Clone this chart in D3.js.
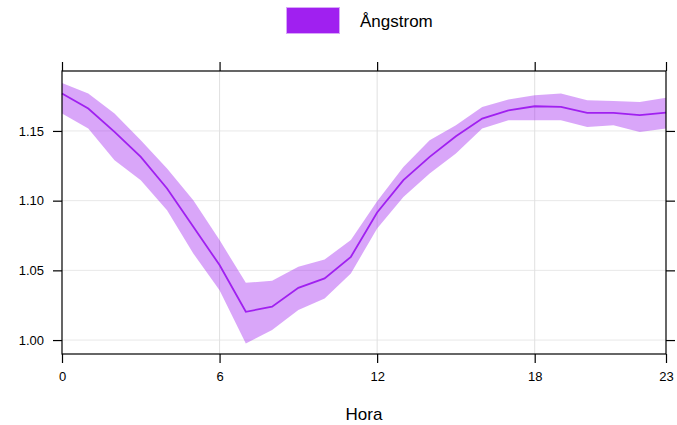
<!DOCTYPE html>
<meta charset="utf-8">
<script src="https://d3js.org/d3.v7.min.js"></script>
<style>
  body { margin: 0; background: #fff; }
  text { font-family: "Liberation Sans", Arial, sans-serif; fill: #000; }
</style>
<div id="chart"></div>
<script>
  // hourly mean and band
  var hours = d3.range(0, 24);
  var meanVals = [1.1768, 1.1661, 1.1493, 1.1314, 1.1087, 1.0812, 1.0538, 1.0203,
    1.0239, 1.0375, 1.0442, 1.0597, 1.0915, 1.1147, 1.1314, 1.1462,
    1.1589, 1.1648, 1.1677, 1.1672, 1.1629, 1.1629, 1.1613, 1.1632];
  var upperVals = [1.1844, 1.1768, 1.1625, 1.1433, 1.1230, 1.1003, 1.0717, 1.0411,
    1.0425, 1.0525, 1.0578, 1.0717, 1.0995, 1.1242, 1.1433, 1.1541,
    1.1672, 1.1725, 1.1756, 1.1768, 1.1720, 1.1715, 1.1708, 1.1739];
  var lowerVals = [1.1625, 1.1517, 1.1290, 1.1147, 1.0932, 1.0621, 1.0358, 0.9976,
    1.0072, 1.0215, 1.0299, 1.0478, 1.0800, 1.1027, 1.1195, 1.1338,
    1.1517, 1.1577, 1.1577, 1.1577, 1.1529, 1.1541, 1.1493, 1.1517];
  var xTicks = [0, 6, 12, 18, 23];
  var xGrid = [6, 12, 18];
  var yTicks = [1.00, 1.05, 1.10, 1.15];
  var seriesName = "Ångstrom";

  var width = 677, height = 425;
  var pLeft = 62, pRight = 666, pTop = 71, pBottom = 354;
  var tick = 9;

  var svg = d3.select("#chart").append("svg")
    .attr("width", width)
    .attr("height", height);

  var x = d3.scaleLinear().domain([0, 23]).range([pLeft, pRight]);
  var y = d3.scaleLinear().domain([0.99, 1.193]).range([pBottom, pTop]);

  var data = hours.map(function (h, i) {
    return { h: h, m: meanVals[i], lo: lowerVals[i], hi: upperVals[i] };
  });

  // grid
  svg.selectAll(".gy").data(yTicks).enter().append("line")
    .attr("x1", pLeft).attr("x2", pRight)
    .attr("y1", function (d) { return y(d); })
    .attr("y2", function (d) { return y(d); })
    .style("stroke", "#e8e8e8");
  svg.selectAll(".gx").data(xGrid).enter().append("line")
    .attr("y1", pTop).attr("y2", pBottom)
    .attr("x1", function (d) { return x(d); })
    .attr("x2", function (d) { return x(d); })
    .style("stroke", "#e0e0e0");

  // band
  var area = d3.area()
    .x(function (d) { return x(d.h); })
    .y0(function (d) { return y(d.lo); })
    .y1(function (d) { return y(d.hi); });
  svg.append("path").datum(data)
    .attr("d", area)
    .style("fill", "#a020f0")
    .style("fill-opacity", 0.4);

  // line
  var line = d3.line()
    .x(function (d) { return x(d.h); })
    .y(function (d) { return y(d.m); });
  svg.append("path").datum(data)
    .attr("d", line)
    .style("fill", "none")
    .style("stroke", "#a020f0")
    .style("stroke-width", 1.8);

  // box
  svg.append("rect")
    .attr("x", pLeft).attr("y", pTop)
    .attr("width", pRight - pLeft).attr("height", pBottom - pTop)
    .style("fill", "none").style("stroke", "#000").style("stroke-width", 1.2);

  // axes: ticks outside on all four sides
  var axB = d3.axisBottom(x).tickValues(xTicks).tickSize(tick).tickPadding(9);
  var gB = svg.append("g").attr("transform", "translate(0," + pBottom + ")").call(axB);
  var axT = d3.axisTop(x).tickValues(xTicks).tickSize(tick).tickFormat("");
  var gT = svg.append("g").attr("transform", "translate(0," + pTop + ")").call(axT);
  var axL = d3.axisLeft(y).tickValues(yTicks).tickSize(tick).tickPadding(9)
    .tickFormat(d3.format(".2f"));
  var gL = svg.append("g").attr("transform", "translate(" + pLeft + ",0)").call(axL);
  var axR = d3.axisRight(y).tickValues(yTicks).tickSize(tick).tickFormat("");
  var gR = svg.append("g").attr("transform", "translate(" + pRight + ",0)").call(axR);

  [gB, gT, gL, gR].forEach(function (g) {
    g.select(".domain").remove();
    g.selectAll("line").style("stroke", "#000").style("stroke-width", 1.2);
    g.selectAll("text").style("font-size", "13px").style("fill", "#000")
      .style("font-family", "Liberation Sans, Arial, sans-serif");
  });

  // x label
  svg.append("text")
    .attr("x", (pLeft + pRight) / 2).attr("y", 420)
    .attr("text-anchor", "middle")
    .style("font-size", "17px")
    .text("Hora");

  // legend
  svg.append("rect")
    .attr("x", 286.5).attr("y", 7.5).attr("width", 53).attr("height", 26)
    .style("fill", "#a020f0").style("stroke", "#d9a6f9");
  svg.append("text")
    .attr("x", 360).attr("y", 27)
    .style("font-size", "17px")
    .text(seriesName);
</script>
